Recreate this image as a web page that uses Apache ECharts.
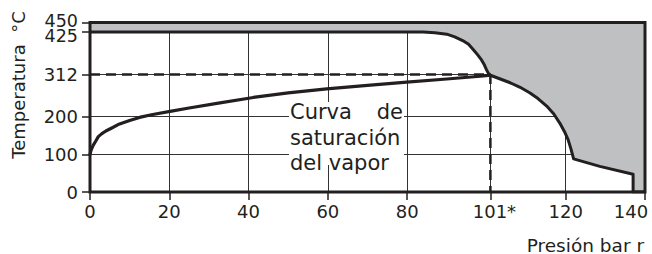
<!DOCTYPE html>
<html><head><meta charset="utf-8">
<script src="https://cdn.jsdelivr.net/npm/echarts@6/dist/echarts.min.js"></script>
<style>html,body{margin:0;padding:0;background:#fff;overflow:hidden;width:652px;height:254px}#c{width:652px;height:254px}</style>
</head><body><div id="c"></div>
<script>
const xTickValues = [0, 20, 40, 60, 80, 101, 120, 140];
const yTickValues = [0, 100, 200, 312, 450];
const yTickValuesExtra = [425];

// Saturation curve (pressure bar r, temperature °C)
const satPressure = [0, 0.3, 0.8, 1.5, 2.1, 3, 4, 5.5, 7.1, 10, 12.5, 15.5, 20.2, 25, 32.4, 41.2, 50, 59.7, 70, 79.9, 90, 99.2, 101];
const satTemp =     [100, 112, 124, 136, 147, 155, 162, 170, 179, 190, 198, 205, 214, 223, 236, 251, 263, 274, 283, 291.5, 300, 308, 310];

// Operating envelope boundary (area above is shaded)
const envPressure = [0, 84, 87, 90, 92, 94, 95.5, 96.6, 97.8, 98.8, 99.5, 100, 100.5, 101, 103, 106, 108.5, 111, 113, 115.2, 117, 118.5, 119.7, 120.6, 121.3, 122, 128.6, 137, 137, 140];
const envTemp =     [425, 425, 423, 419, 412, 402, 392, 379, 364, 350, 337, 325, 315, 310, 302, 290, 278, 263, 248, 228, 207, 183, 160, 139, 115, 88, 68, 47, 0, 0];

// Dashed reference lines at the critical point
const refPressure = [0, 101, 101];
const refTemp = [312, 312, 0];

const zip = (a, b) => a.map((v, i) => [v, b[i]]);
const INK = '#231f20';
const FONT = 'DejaVu Sans';

const chart = echarts.init(document.getElementById('c'), null, {renderer: 'svg', width: 652, height: 254});
chart.setOption({
  animation: false,
  backgroundColor: '#fff',
  grid: {left: 90, right: 7, top: 22.5, bottom: 62, show: true, z: 5, containLabel: false, outerBoundsMode: 'none',
         borderColor: INK, borderWidth: 3, backgroundColor: 'transparent'},
  xAxis: {
    type: 'value', min: 0, max: 140, interval: 20,
    axisLine: {show: false},
    splitLine: {show: true, lineStyle: {color: '#333', width: 1}},
    axisTick: {show: true, customValues: xTickValues, length: 8, lineStyle: {color: INK, width: 1.5}},
    axisLabel: {customValues: xTickValues, margin: 10, color: INK, fontFamily: FONT, fontSize: 18,
                showMinLabel: true, showMaxLabel: true, hideOverlap: false,
                formatter: v => v === 101 ? '{ast|101*}' : v === 140 ? '{end|140}' : String(v),
                rich: {ast: {padding: [0, 0, 0, 8], color: INK, fontFamily: FONT, fontSize: 18},
                       end: {padding: [0, 28, 0, 0], color: INK, fontFamily: FONT, fontSize: 18}}}
  },
  yAxis: [{
    type: 'value', min: 0, max: 450, interval: 100,
    axisLine: {show: false},
    splitLine: {show: true, lineStyle: {color: '#333', width: 1}},
    axisTick: {show: true, customValues: yTickValues, length: 8, lineStyle: {color: INK, width: 1.5}},
    axisLabel: {customValues: yTickValues, margin: 12, color: INK, fontFamily: FONT, fontSize: 18,
                showMinLabel: true, showMaxLabel: true, hideOverlap: false,
                formatter: v => v === 450 ? '{hi|450}' : String(v),
                rich: {hi: {padding: [0, 0, 4, 0], lineHeight: 12, color: INK, fontFamily: FONT, fontSize: 17.5}}}
  }, {
    type: 'value', min: 0, max: 450, interval: 100, position: 'left',
    axisLine: {show: false}, splitLine: {show: false},
    axisTick: {show: true, customValues: yTickValuesExtra, length: 8, lineStyle: {color: INK, width: 1.5}},
    axisLabel: {customValues: yTickValuesExtra, margin: 12, color: INK, fontFamily: FONT, fontSize: 18,
                showMinLabel: true, showMaxLabel: true, hideOverlap: false,
                formatter: v => '{lo|' + v + '}',
                rich: {lo: {padding: [9, 0, 0, 0], lineHeight: 12, color: INK, fontFamily: FONT, fontSize: 17.5}}}
  }],
  series: [
    {type: 'line', data: zip(envPressure, envTemp), showSymbol: false, symbol: 'none', z: 2,
     lineStyle: {color: INK, width: 3, join: 'round'},
     areaStyle: {origin: 'end', color: '#bfc0c2', opacity: 1}},
    {type: 'line', data: zip(satPressure, satTemp), showSymbol: false, symbol: 'none', z: 3,
     lineStyle: {color: INK, width: 3.2, cap: 'round', join: 'round'}},
    {type: 'line', data: zip(refPressure, refTemp), showSymbol: false, symbol: 'none', z: 3,
     lineStyle: {color: INK, width: 2.5, type: [10, 6]}}
  ],
  graphic: [
    {type: 'rect', z: 10, shape: {x: 289, y: 102, width: 115, height: 63}, style: {fill: '#fff'}},
    {type: 'text', z: 11, x: 290, y: 112, style: {text: 'Curva', fill: INK, font: '21px "DejaVu Sans"', align: 'left', verticalAlign: 'middle'}},
    {type: 'text', z: 11, x: 403, y: 112, style: {text: 'de', fill: INK, font: '21px "DejaVu Sans"', align: 'right', verticalAlign: 'middle'}},
    {type: 'text', z: 11, x: 290, y: 137.5, style: {text: 'saturación', fill: INK, font: '21px "DejaVu Sans"', align: 'left', verticalAlign: 'middle'}},
    {type: 'text', z: 11, x: 290, y: 162.5, style: {text: 'del vapor', fill: INK, font: '21px "DejaVu Sans"', align: 'left', verticalAlign: 'middle'}},
    {type: 'text', z: 11, x: 18, y: 85, rotation: Math.PI / 2, style: {text: 'Temperatura  °C', fill: INK, font: '18px "DejaVu Sans"', align: 'center', verticalAlign: 'middle'}},
    {type: 'text', z: 11, x: 644, y: 245, style: {text: 'Presión bar r', fill: INK, font: '18.5px "DejaVu Sans"', align: 'right', verticalAlign: 'middle'}}
  ]
});
</script></body></html>
